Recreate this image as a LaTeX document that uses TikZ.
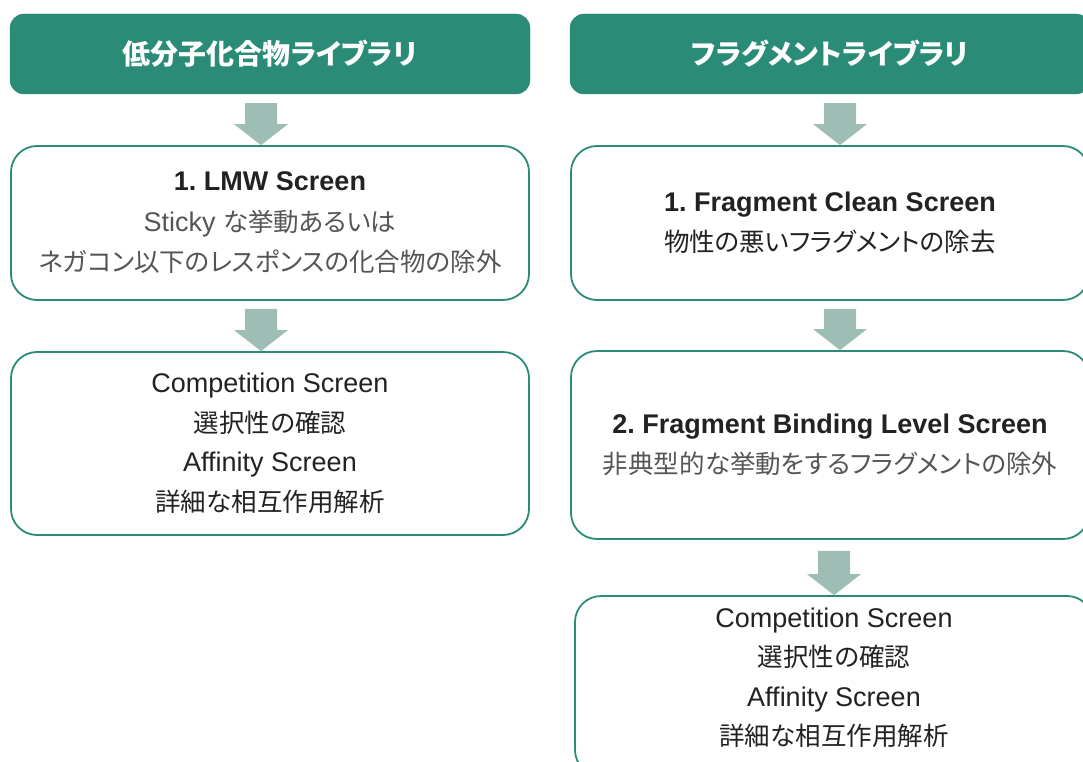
\documentclass[tikz,border=0pt]{standalone}
\usepackage{fontspec}
\setmainfont{Liberation Sans}
\newfontfamily\jpfam{Noto Sans CJK JP}[RawFeature=+palt]
\newcommand\J{\jpfam\fontsize{25.5}{40.5}\selectfont}
\usetikzlibrary{calc}
\definecolor{hdr}{HTML}{2A8C77}
\definecolor{arrc}{HTML}{9EBDB4}
\definecolor{dark}{HTML}{222222}
\definecolor{mid}{HTML}{555555}
\newcommand\blockdown[2]{%
  \fill[arrc] ($(#1)+(-16,0)$) -- ($(#1)+(16,0)$) -- ($(#2)+(16,-21)$) -- ($(#2)+(27,-21)$) -- (#2) -- ($(#2)+(-27,-21)$) -- ($(#2)+(-16,-21)$) -- cycle;}
\begin{document}
\frenchspacing
\begin{tikzpicture}[x=1pt,y=-1pt,
  header/.style={fill=hdr, draw=hdr, rounded corners=14pt, minimum width=520pt, minimum height=80pt,
    text=white, font=\jpfam\bfseries\fontsize{28}{32}\selectfont, inner sep=0pt},
  stepbox/.style={draw=hdr, line width=1.8pt, rounded corners=26pt, fill=white, minimum width=518pt,
    inner sep=0pt, align=center, text=dark, font=\frenchspacing\fontsize{27}{40.5}\selectfont},
  body/.style={align=center, text=dark, font=\frenchspacing\fontsize{27}{39.5}\selectfont, inner sep=0pt}]
\useasboundingbox (0,0) rectangle (1083,762);
\clip (0,0) rectangle (1083,762);
% left column
\node[header] (h1) at (270,54) {低分子化合物ライブラリ};
\node[stepbox, minimum height=154pt] (b1) at (270,223)
  {\textbf{\color{dark}1. LMW Screen}\\ \color{mid}Sticky {\J な挙動あるいは}\\ {\J\color{mid}ネガコン以下のレスポンスの化合物の除外}};
\node[stepbox, minimum height=183pt, font=\fontsize{27}{39.5}\selectfont] (b2) at (270,443.5)
  {Competition Screen\\ {\J 選択性の確認}\\ Affinity Screen\\ {\J 詳細な相互作用解析}};
% right column
\node[header] (h2) at (830,54) {フラグメントライブラリ};
\node[stepbox, minimum height=154pt] (r1) at (830,223)
  {\textbf{1. Fragment Clean Screen}\\ {\J\color{dark}物性の悪いフラグメントの除去}};
\node[stepbox, minimum height=188pt] (r2) at (830,445)
  {\textbf{2. Fragment Binding Level Screen}\\ {\J\color{mid}非典型的な挙動をするフラグメントの除外}};
\node[stepbox, minimum height=180pt] (r3) at (834,686) {};
\node[body] (r3t) at (834,678)
  {Competition Screen\\ {\J 選択性の確認}\\ Affinity Screen\\ {\J 詳細な相互作用解析}};
% arrows
\coordinate (a1s) at ($(h1.south)+(-9,9)$);
\coordinate (a1e) at ($(b1.north)+(-9,0)$);
\coordinate (a2s) at ($(b1.south)+(-9,8)$);
\coordinate (a2e) at ($(b2.north)+(-9,0)$);
\coordinate (a3s) at ($(h2.south)+(10,9)$);
\coordinate (a3e) at ($(r1.north)+(10,0)$);
\coordinate (a4s) at ($(r1.south)+(10,8)$);
\coordinate (a4e) at ($(r2.north)+(10,0)$);
\coordinate (a5s) at ($(r2.south)+(4,11)$);
\coordinate (a5e) at ($(r3.north)+(0,0)$);
\blockdown{a1s}{a1e}
\blockdown{a2s}{a2e}
\blockdown{a3s}{a3e}
\blockdown{a4s}{a4e}
\blockdown{a5s}{a5e}
\end{tikzpicture}
\end{document}
